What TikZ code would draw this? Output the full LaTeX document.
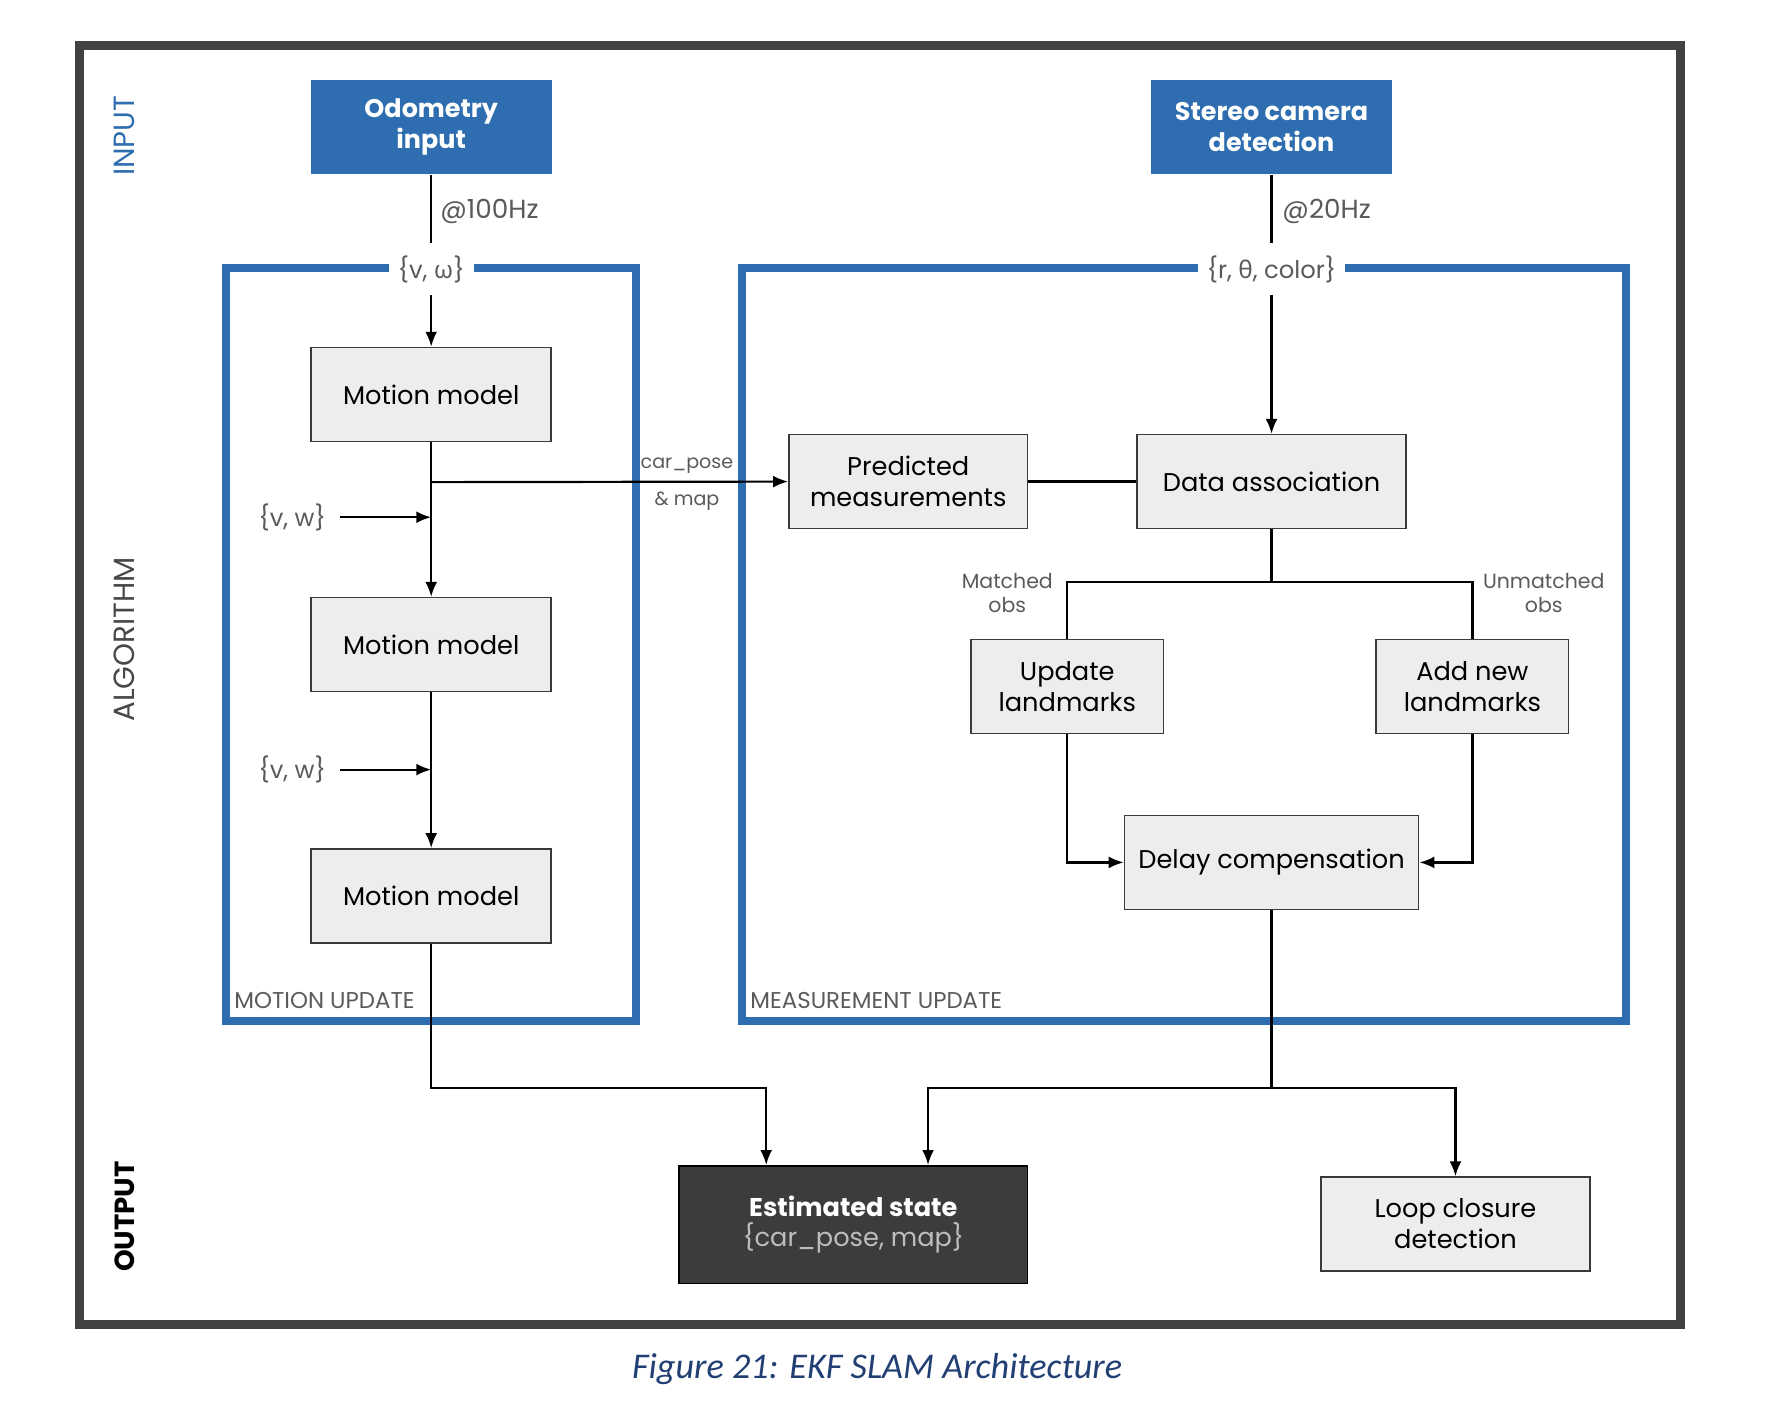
\documentclass[tikz,border=0pt]{standalone}
\usepackage{fontspec}
\setmainfont{Poppins}
\newfontfamily\griego{Noto Sans}
\newfontfamily\leyenda{Carlito}
\usetikzlibrary{arrows.meta}
\definecolor{azul}{HTML}{2E6DB0}
\definecolor{cajagris}{HTML}{EDEDED}
\definecolor{bordegris}{HTML}{3A3A3A}
\definecolor{oscuro}{HTML}{3C3C3C}
\definecolor{marco}{HTML}{424242}
\definecolor{rotulo}{HTML}{5A5A5A}
\definecolor{clarito}{HTML}{BDBDBD}
\definecolor{pie}{HTML}{213F73}
\begin{document}
\begin{tikzpicture}[x=0.2mm,y=-0.2mm]
% estilos de linea y relleno
\tikzstyle{entrada} = [fill=azul,text=white,font=\fontsize{12.8}{15.5}\selectfont\bfseries,align=center,minimum width=42.6mm,minimum height=16.6mm,inner sep=0pt]
\tikzstyle{bloque} = [draw=bordegris,line width=0.8pt,fill=cajagris,font=\fontsize{12.9}{15.5}\selectfont,align=center,minimum height=16.6mm,inner sep=0pt]
\tikzstyle{salida} = [fill=oscuro,draw=black,line width=0.8pt,text=white,font=\fontsize{12.9}{15.5}\selectfont,align=center,minimum width=61.6mm,minimum height=20.8mm,inner sep=0pt]
\tikzstyle{marcoazul} = [draw=azul,line width=1.4mm]
\tikzstyle{flecha} = [line width=1.1pt,-{Latex[length=7.5pt,width=6pt]}]
\tikzstyle{linea} = [line width=1.1pt]
\tikzstyle{rot} = [text=rotulo,font=\fontsize{10.3}{12.5}\selectfont,align=center,inner sep=1pt]
\tikzstyle{rotg} = [text=rotulo,font=\fontsize{12.2}{14}\selectfont,inner sep=1pt]
\tikzstyle{hueco} = [rotg,fill=white,inner xsep=4.5pt,inner ysep=6pt]
\tikzstyle{franja} = [rotate=90,font=\fontsize{14.7}{16}\selectfont]
% --------------------------------------
\useasboundingbox (0,0) rectangle (1571,1248);
% marco exterior y marcos de etapa
\draw [draw=marco,line width=1.6mm] (70,40) rectangle (1485,1170);
\draw [marcoazul] (200,237) rectangle (562,902);
\draw [marcoazul] (656,237) rectangle (1437,902);
% rotulos de franja
\node [franja,text=azul] (tinput) at (110,120) {INPUT};
\node [franja,text=rotulo!80!black] (talgo) at (110,565) {ALGORITHM};
\node [franja,font=\fontsize{13.9}{15}\selectfont\bfseries] (toutput) at (110,1075) {OUTPUT};
% entradas
\node [entrada] (odo) at (381,112.5) {Odometry\\input};
\node [entrada] (cam) at (1123.5,112.5) {Stereo camera\\detection};
% actualizacion de movimiento
\node [bloque,minimum width=42.4mm] (mm1) at (381,348.5) {Motion model};
\node [bloque,minimum width=42.4mm] (mm2) at (381,569.5) {Motion model};
\node [bloque,minimum width=42.4mm] (mm3) at (381,791.5) {Motion model};
% actualizacion de medidas
\node [bloque,minimum width=42.2mm] (pred) at (802.5,425.5) {Predicted\\measurements};
\node [bloque,minimum width=47.6mm] (dat) at (1123.5,425.5) {Data association};
\node [bloque,minimum width=34mm] (upd) at (943,606.5) {Update\\landmarks};
\node [bloque,minimum width=34mm] (add) at (1301,606.5) {Add new\\landmarks};
\node [bloque,minimum width=52mm] (delay) at (1123.5,762) {Delay compensation};
% salidas
\node [salida] (estado) at (754,1082) {\textbf{Estimated state}\\{\color{clarito}\{car\_pose, map\}}};
\node [bloque,minimum width=47.6mm] (loop) at (1286,1081.5) {Loop closure\\detection};
% rotulos
\node [hueco] (vw) at (381,238) {\{v, {\griego ω}\}};
\node [hueco] (rtc) at (1123.5,238) {\{r, {\griego θ}, color\}};
\node [rotg,anchor=west,font=\fontsize{13.2}{14}\selectfont] (f100) at (387,187) {@100Hz};
\node [rotg,anchor=west,font=\fontsize{13.2}{14}\selectfont] (f20) at (1131,187) {@20Hz};
\node [rot,font=\fontsize{9.6}{12}\selectfont] (cp) at (607,411) {car\_pose};
\node [rot,font=\fontsize{9.6}{12}\selectfont] (mp) at (607,443) {\& map};
\node [rot] (mat) at (890,524) {Matched\\obs};
\node [rot] (unm) at (1364,524) {Unmatched\\obs};
\node [rot,anchor=west,font=\fontsize{11.5}{13}\selectfont] (tmu) at (205,884) {MOTION UPDATE};
\node [rot,anchor=west,font=\fontsize{11.5}{13}\selectfont] (tmeu) at (661,884) {MEASUREMENT UPDATE};
\node [rotg,anchor=east] (u1) at (290,457) {\{v, w\}};
\node [rotg,anchor=east] (u2) at (290,680) {\{v, w\}};
\node [text=pie,font=\leyenda\itshape\fontsize{18.2}{21}\selectfont] (cap) at (775,1210) {Figure 21: EKF SLAM Architecture};
% coordenadas auxiliares
\coordinate (b1) at (381,426);
\coordinate (j1) at (381,457);
\coordinate (j2) at (381,680);
\coordinate (f1) at (1123.5,514);
\coordinate (f2) at (1123.5,961);
\coordinate (s1) at (677,961);
\coordinate (s2) at (820,961);
% conexiones
\draw [linea] (odo.south) -- (vw.north);
\draw [flecha] (vw.south) -- (mm1.north);
\draw [flecha] (mm1.south) -- (mm2.north);
\draw [flecha] (mm2.south) -- (mm3.north);
\draw [flecha] (b1) -- (pred.west);
\draw [flecha] (u1.east) ++(10,0) -- (j1);
\draw [flecha] (u2.east) ++(10,0) -- (j2);
\draw [flecha] (mm3.south) |- (s1) -- (s1 |- estado.north);
\draw [linea] (cam.south) -- (rtc.north);
\draw [flecha] (rtc.south) -- (dat.north);
\draw [linea] (pred.east) -- (dat.west);
\draw [linea] (dat.south) -- (f1);
\draw [linea] (upd.north) |- (f1) -| (add.north);
\draw [flecha] (upd.south) |- (delay.west);
\draw [flecha] (add.south) |- (delay.east);
\draw [linea] (delay.south) -- (f2);
\draw [flecha] (f2) -- (s2) -- (s2 |- estado.north);
\draw [flecha] (f2) -| (loop.north);
\end{tikzpicture}
\end{document}
